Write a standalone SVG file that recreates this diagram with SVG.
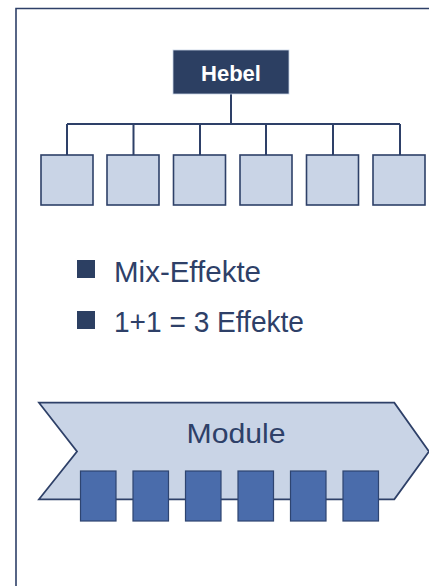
<svg xmlns="http://www.w3.org/2000/svg" width="429" height="586" viewBox="0 0 429 586">
<style>
.frame{fill:none;stroke:#2E4068;stroke-width:1.6}
.conn{fill:none;stroke:#2E4068;stroke-width:2}
.leaf{fill:#C9D4E6;stroke:#2E4068;stroke-width:1.6}
.mod{fill:#4A6CAB;stroke:#2E4470;stroke-width:1.2}
.txt{font-family:"Liberation Sans",Arial,sans-serif;fill:#2E4068}
</style>
<rect width="429" height="586" fill="#FFFFFF"/>
<path class="frame" d="M16,600 V8.5 H440"/>
<g id="connectors">
<path class="conn" d="M231,94 V124 M67,124 H400 M67,124 V155 M133.5,124 V155 M200,124 V155 M266,124 V155 M333,124 V155 M400,124 V155"/>
</g>
<g id="hebel">
<rect x="173" y="50" width="116" height="44" fill="#2C3F62" stroke="#C9D4E6" stroke-width="0.8"/>
<text x="231" y="81" text-anchor="middle" font-family="Liberation Sans, Arial, sans-serif" font-weight="bold" font-size="22" fill="#FFFFFF">Hebel</text>
</g>
<g id="leaf1"><rect class="leaf" x="41" y="155" width="52" height="50"/></g>
<g id="leaf2"><rect class="leaf" x="107" y="155" width="52" height="50"/></g>
<g id="leaf3"><rect class="leaf" x="173.5" y="155" width="52" height="50"/></g>
<g id="leaf4"><rect class="leaf" x="240" y="155" width="52" height="50"/></g>
<g id="leaf5"><rect class="leaf" x="306.5" y="155" width="52" height="50"/></g>
<g id="leaf6"><rect class="leaf" x="373" y="155" width="52" height="50"/></g>
<g id="bullets">
<rect x="77" y="260" width="18" height="18" fill="#2C3F62"/>
<text class="txt" x="114" y="282" font-size="29" textLength="147" lengthAdjust="spacingAndGlyphs">Mix-Effekte</text>
<rect x="77" y="311" width="18" height="18" fill="#2C3F62"/>
<text class="txt" x="114" y="332" font-size="29" textLength="190" lengthAdjust="spacingAndGlyphs">1+1 = 3 Effekte</text>
</g>
<g id="module">
<path d="M39,402.7 H394.3 L429,451.5 L394.3,499.3 H39 L77,451.5 Z" fill="#C9D4E6" stroke="#2E4068" stroke-width="1.8" stroke-linejoin="miter"/>
<text class="txt" x="236" y="443" text-anchor="middle" font-size="27" textLength="99" lengthAdjust="spacingAndGlyphs">Module</text>
<rect class="mod" x="80.5" y="471" width="35.5" height="50"/>
<rect class="mod" x="133" y="471" width="35.5" height="50"/>
<rect class="mod" x="185.5" y="471" width="35.5" height="50"/>
<rect class="mod" x="238" y="471" width="35.5" height="50"/>
<rect class="mod" x="290.5" y="471" width="35.5" height="50"/>
<rect class="mod" x="343" y="471" width="35.5" height="50"/>
</g>
</svg>
